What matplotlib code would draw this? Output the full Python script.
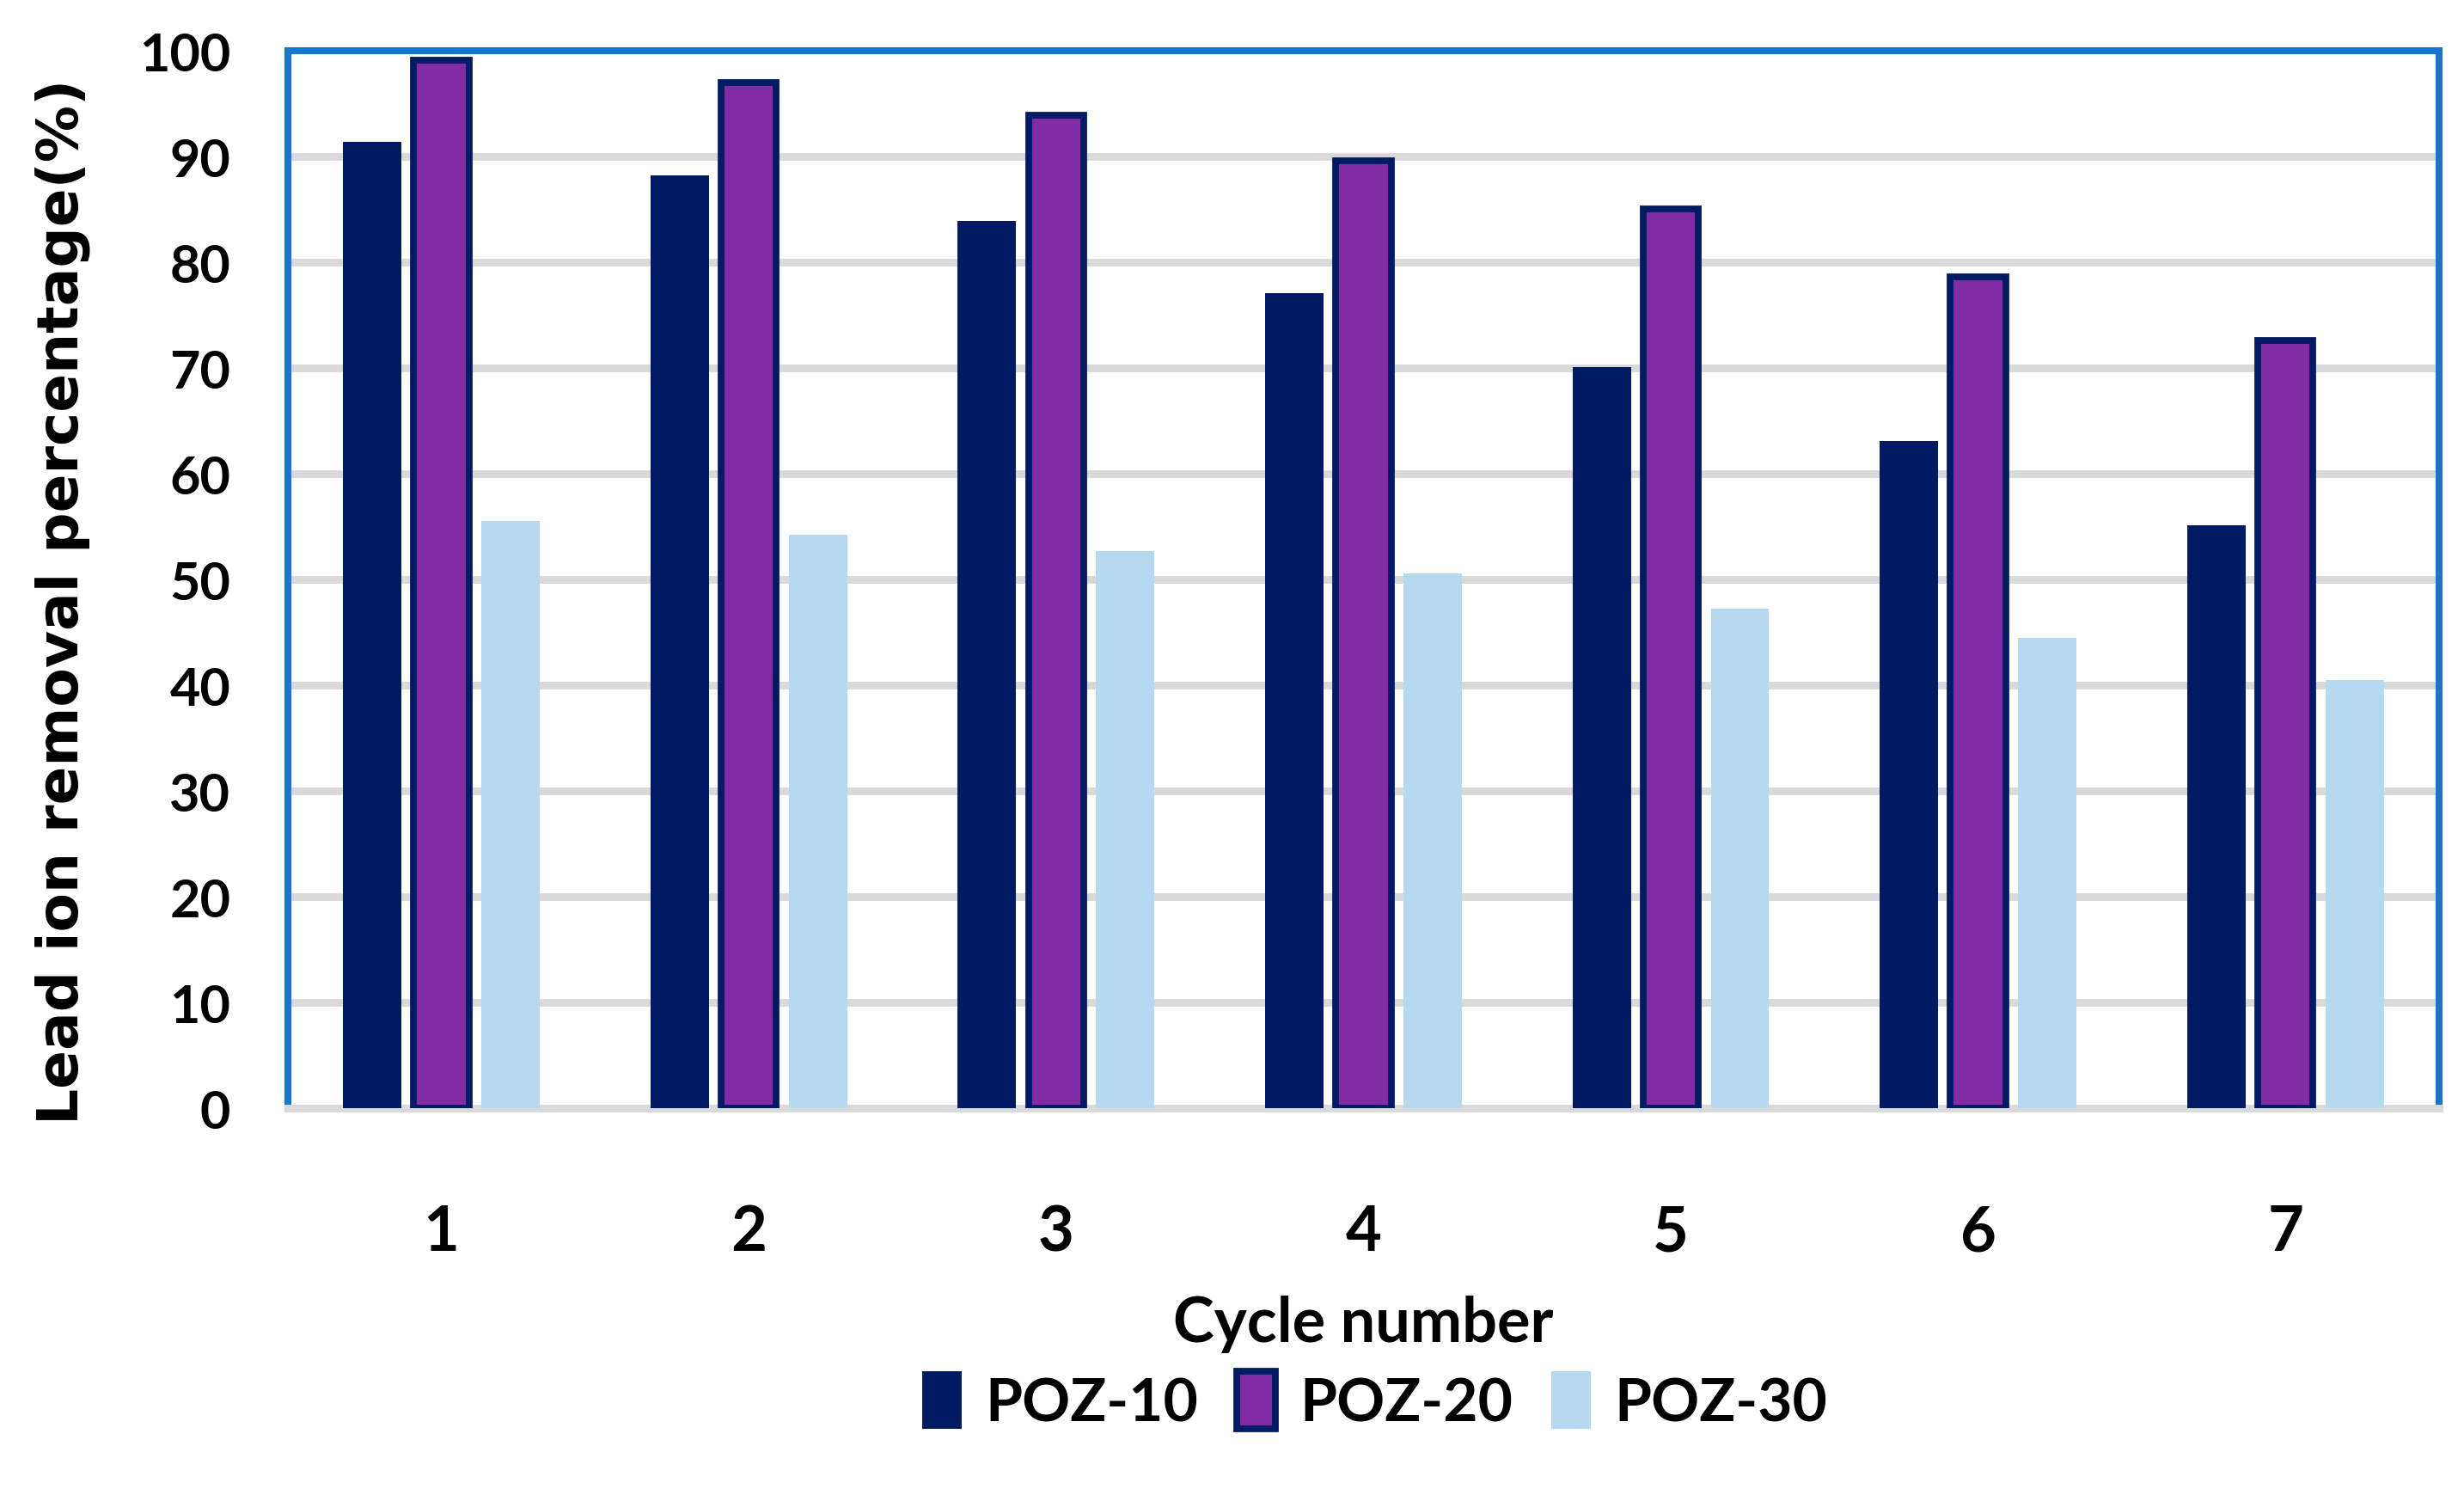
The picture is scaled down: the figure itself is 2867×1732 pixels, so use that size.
import matplotlib.pyplot as plt
import numpy as np

# data
cycles = ["1", "2", "3", "4", "5", "6", "7"]
poz10 = [91.4, 88.2, 83.9, 77.1, 70.1, 63.1, 55.1]
poz20 = [99.1, 97.0, 93.9, 89.6, 85.0, 78.6, 72.6]
poz30 = [55.5, 54.2, 52.7, 50.6, 47.2, 44.5, 40.5]
series_names = ["POZ-10", "POZ-20", "POZ-30"]

navy = "#001A63"
purple = "#812CA5"
light = "#B6D9F0"
blue_frame = "#1976CE"
grid_gray = "#D9D9D9"

tick_font = "Lato"

fig = plt.figure(figsize=(14.335, 8.665), dpi=200)
ax = fig.add_axes([0.1168, 0.2556, 0.8731, 0.7098])

x = np.arange(len(cycles))
w = 0.19
off = 0.225
ax.bar(x - off, poz10, w, color=navy, zorder=3, label=series_names[0])
ax.bar(x, poz20, w - 0.01, color=purple, edgecolor=navy, linewidth=2.8,
       zorder=3, label=series_names[1])
ax.bar(x + off, poz30, w, color=light, zorder=3, label=series_names[2])

ax.set_xlim(-0.5, len(cycles) - 0.5)
ax.set_ylim(0, 100)
ax.set_yticks(range(0, 101, 10))
ax.set_xticks(x)
ax.set_xticklabels(cycles)

# gridlines
for yv in range(10, 100, 10):
    ax.axhline(yv, color=grid_gray, linewidth=3.2, zorder=1)

for side in ["left", "top", "right"]:
    ax.spines[side].set_color(blue_frame)
    ax.spines[side].set_linewidth(2.9)
ax.spines["bottom"].set_color(grid_gray)
ax.spines["bottom"].set_linewidth(3.2)

ax.tick_params(axis="both", length=0)
ax.tick_params(axis="y", pad=24)
ax.tick_params(axis="x", pad=40)
for lab in ax.get_yticklabels():
    lab.set_fontfamily(tick_font)
    lab.set_fontweight("bold")
    lab.set_fontsize(22)
for lab in ax.get_xticklabels():
    lab.set_fontfamily(tick_font)
    lab.set_fontweight("bold")
    lab.set_fontsize(26)

ax.set_xlabel("Cycle number", fontfamily=tick_font, fontweight="bold",
              fontsize=26, labelpad=14)
ax.set_ylabel("Lead ion removal percentage(%)", fontfamily="DejaVu Sans",
              fontweight="bold", fontsize=23.8)
ax.yaxis.set_label_coords(-0.092, 0.48)

leg = fig.legend(loc="center", bbox_to_anchor=(0.558, 0.059), ncol=3,
                 frameon=False, handlelength=0.65, handleheight=1.1,
                 handletextpad=0.4, columnspacing=0.65,
                 prop={"family": tick_font, "weight": "bold", "size": 25})

fig.savefig("out.png", dpi=200)
